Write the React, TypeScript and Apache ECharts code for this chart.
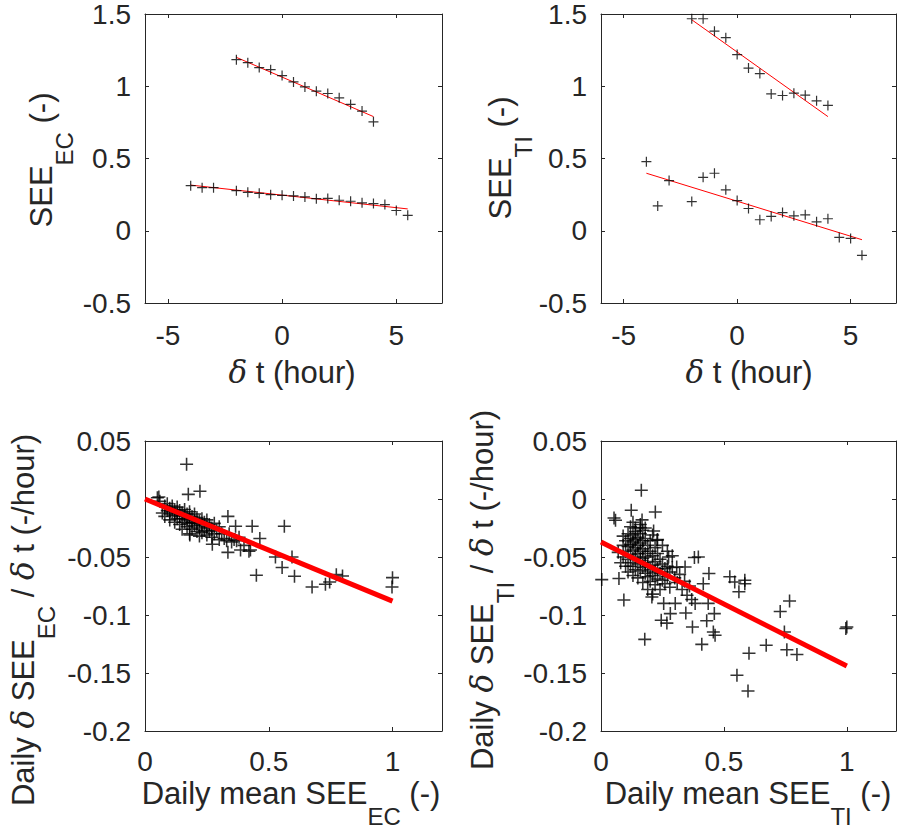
import React, { useEffect, useRef } from "react";
import * as echarts from "echarts";

// ---------- data ----------
// Top-left: SEE_EC vs delta t (hour)
const tlUpperX = [-2, -1.5, -1, -0.5, 0, 0.5, 1, 1.5, 2, 2.5, 3, 3.5, 4];
const tlUpperY = [1.184, 1.163, 1.129, 1.115, 1.074, 1.03, 0.995, 0.966, 0.95, 0.92, 0.874, 0.828, 0.754];
const tlLowerX = [-4, -3.5, -3, -2, -1.5, -1, -0.5, 0, 0.5, 1, 1.5, 2, 2.5, 3, 3.5, 4, 4.5, 5, 5.5];
const tlLowerY = [0.312, 0.298, 0.298, 0.277, 0.266, 0.259, 0.25, 0.245, 0.241, 0.234, 0.222, 0.224, 0.211, 0.204, 0.193, 0.188, 0.181, 0.14, 0.107];
const tlFitUpper = [[-2, 1.2], [4, 0.79]];
const tlFitLower = [[-4, 0.316], [5.5, 0.151]];

// Top-right: SEE_TI vs delta t (hour)
const trUpperX = [-2, -1.5, -1, -0.5, 0, 0.5, 1, 1.5, 2, 2.5, 3, 3.5, 4];
const trUpperY = [1.467, 1.467, 1.381, 1.336, 1.219, 1.126, 1.088, 0.947, 0.936, 0.952, 0.938, 0.899, 0.867];
const trLowerX = [-4, -3.5, -3, -2, -1.5, -1, -0.5, 0, 0.5, 1, 1.5, 2, 2.5, 3, 3.5, 4, 4.5, 5, 5.5];
const trLowerY = [0.478, 0.172, 0.347, 0.202, 0.37, 0.398, 0.283, 0.209, 0.154, 0.076, 0.099, 0.126, 0.103, 0.11, 0.062, 0.083, -0.046, -0.053, -0.17];
const trFitUpper = [[-2, 1.46], [4, 0.79]];
const trFitLower = [[-4, 0.398], [5.5, -0.062]];

// Bottom-left: daily slope vs daily mean SEE_EC
const blPoints = [
  [0.05, 0.001], [0.06, -0.002], [0.07, -0.012], [0.08, -0.006], [0.08, -0.015], [0.09, -0.004], [0.09, -0.01],
  [0.1, -0.008], [0.1, -0.013], [0.1, -0.018], [0.11, -0.006], [0.11, -0.011], [0.12, -0.009], [0.12, -0.014],
  [0.12, -0.02], [0.13, -0.007], [0.13, -0.012], [0.13, -0.017], [0.14, -0.01], [0.14, -0.015], [0.14, -0.022],
  [0.15, -0.012], [0.15, -0.017], [0.15, -0.026], [0.16, -0.009], [0.16, -0.014], [0.16, -0.02], [0.17, -0.013],
  [0.17, -0.018], [0.17, -0.024], [0.18, -0.011], [0.18, -0.016], [0.18, -0.021], [0.18, -0.03], [0.19, -0.015],
  [0.19, -0.02], [0.19, -0.026], [0.2, -0.013], [0.2, -0.018], [0.2, -0.023], [0.21, -0.016], [0.21, -0.021],
  [0.21, -0.028], [0.22, -0.019], [0.22, -0.025], [0.22, -0.032], [0.23, -0.017], [0.23, -0.022], [0.23, -0.029],
  [0.24, -0.02], [0.24, -0.027], [0.25, -0.018], [0.25, -0.024], [0.25, -0.031], [0.26, -0.022], [0.26, -0.028],
  [0.27, -0.025], [0.27, -0.033], [0.28, -0.021], [0.28, -0.03], [0.29, -0.027], [0.3, -0.024], [0.3, -0.035],
  [0.31, -0.03], [0.32, -0.034], [0.33, -0.036], [0.34, -0.03], [0.35, -0.037], [0.36, -0.035], [0.37, -0.036],
  [0.38, -0.033], [0.4, -0.04], [0.42, -0.045],
  [0.168, 0.03], [0.222, 0.0066], [0.175, 0.004], [0.056, 0.0017], [0.335, -0.015], [0.433, -0.0235],
  [0.563, -0.0235], [0.464, -0.034], [0.366, -0.0235], [0.181, -0.031], [0.272, -0.039], [0.335, -0.046],
  [0.426, -0.044], [0.386, -0.044], [0.527, -0.05], [0.594, -0.05], [0.554, -0.059], [0.45, -0.0658],
  [0.604, -0.0666], [0.675, -0.0759], [0.729, -0.0735], [0.746, -0.0716], [0.773, -0.0652], [0.798, -0.0664],
  [1.0, -0.0678], [0.998, -0.0759],
];
const blFit = [[0, 0.0], [1, -0.088]];

// Bottom-right: daily slope vs daily mean SEE_TI
const brPoints = [
  [0.09, -0.032], [0.1, -0.036], [0.1, -0.045], [0.11, -0.03], [0.11, -0.041], [0.11, -0.052], [0.12, -0.034],
  [0.12, -0.039], [0.12, -0.048], [0.12, -0.058], [0.13, -0.031], [0.13, -0.037], [0.13, -0.044], [0.13, -0.055],
  [0.13, -0.066], [0.14, -0.028], [0.14, -0.035], [0.14, -0.042], [0.14, -0.05], [0.14, -0.061], [0.15, -0.033],
  [0.15, -0.04], [0.15, -0.047], [0.15, -0.056], [0.15, -0.068], [0.16, -0.03], [0.16, -0.038], [0.16, -0.045],
  [0.16, -0.053], [0.16, -0.062], [0.17, -0.036], [0.17, -0.043], [0.17, -0.051], [0.17, -0.059], [0.17, -0.072],
  [0.18, -0.034], [0.18, -0.047], [0.18, -0.055], [0.18, -0.064], [0.19, -0.04], [0.19, -0.05], [0.19, -0.058],
  [0.19, -0.067], [0.19, -0.078], [0.2, -0.036], [0.2, -0.045], [0.2, -0.061], [0.2, -0.071], [0.21, -0.049],
  [0.21, -0.057], [0.21, -0.066], [0.21, -0.082], [0.22, -0.042], [0.22, -0.054], [0.22, -0.063], [0.22, -0.074],
  [0.23, -0.047], [0.23, -0.06], [0.23, -0.069], [0.24, -0.052], [0.24, -0.064], [0.24, -0.078], [0.25, -0.056],
  [0.25, -0.07], [0.26, -0.06], [0.26, -0.073], [0.27, -0.058], [0.27, -0.067], [0.28, -0.063], [0.28, -0.076],
  [0.29, -0.059], [0.3, -0.068], [0.31, -0.072], [0.32, -0.065], [0.33, -0.078], [0.34, -0.071], [0.35, -0.083],
  [0.36, -0.075], [0.12, -0.024], [0.13, -0.02], [0.14, -0.025], [0.16, -0.022], [0.17, -0.027], [0.18, -0.025],
  [0.21, -0.031], [0.23, -0.035], [0.25, -0.04], [0.27, -0.045], [0.29, -0.049], [0.1, -0.058], [0.11, -0.063],
  [0.08, -0.055], [0.09, -0.05], [0.07, -0.046], [0.09, -0.04],
  [0.164, 0.0075], [0.053, -0.0164], [0.059, -0.0184], [0.123, -0.0097], [0.221, -0.0112], [0.167, -0.018],
  [0.16, -0.0247], [0.214, -0.0276], [0.003, -0.0695], [0.093, -0.087], [0.178, -0.121], [0.073, -0.0686],
  [0.396, -0.05], [0.38, -0.0505], [0.439, -0.0643], [0.416, -0.073], [0.524, -0.067], [0.544, -0.0716],
  [0.585, -0.0701], [0.585, -0.073], [0.561, -0.08], [0.767, -0.088], [0.729, -0.097], [0.746, -0.1147],
  [0.672, -0.126], [0.602, -0.133], [0.756, -0.13], [0.797, -0.134], [0.553, -0.152], [0.598, -0.1655],
  [1.0, -0.1103], [0.996, -0.1117], [0.41, -0.1253], [0.372, -0.1103], [0.457, -0.1147], [0.464, -0.1175],
  [0.43, -0.105], [0.461, -0.0988], [0.345, -0.0983], [0.245, -0.1046], [0.268, -0.107], [0.282, -0.0988],
  [0.383, -0.09], [0.436, -0.09], [0.369, -0.0867], [0.302, -0.09], [0.255, -0.09], [0.207, -0.0845],
  [0.342, -0.0586], [0.308, -0.0586], [0.275, -0.05], [0.228, -0.0356],
];
const brFit = [[0, -0.037], [1, -0.144]];

// tick values
const dtTicks = [-5, 0, 5];
const seeTicks = [-0.5, 0, 0.5, 1, 1.5];
const meanTicks = [0, 0.5, 1];
const slopeTicks = [-0.2, -0.15, -0.1, -0.05, 0, 0.05];

// ---------- styling ----------
const FONT = '"Liberation Sans", Arial, Helvetica, sans-serif';
const INK = "#262626";
const PLUS = "path://M0,8.8h20v2.4h-20z M8.8,0h2.4v20h-2.4z";

const zip = (xs: number[], ys: number[]) => xs.map((x, i) => [x, ys[i]]);

const grids = [
  { left: 145, top: 14, width: 297, height: 289 },
  { left: 601, top: 14, width: 295, height: 289 },
  { left: 145, top: 441, width: 297, height: 290 },
  { left: 601, top: 441, width: 295, height: 290 },
];

function makeAxis(gridIndex: number, min: number, max: number, ticks: number[], position: string, showLabel: boolean, margin: number) {
  return {
    type: "value",
    gridIndex,
    min,
    max,
    position,
    axisLine: { show: true, onZero: false, lineStyle: { color: INK, width: 1 } },
    axisTick: { show: true, inside: true, length: 4, customValues: ticks, lineStyle: { color: INK, width: 1 } },
    axisLabel: {
      show: showLabel,
      customValues: ticks,
      margin,
      color: INK,
      fontSize: 28,
      fontFamily: FONT,
      formatter: (v: number) => String(v),
    },
    splitLine: { show: false },
  };
}

const rich = {
  m: { fontSize: 31, fontFamily: FONT, fill: INK },
  d: { fontSize: 31, fontFamily: '"DejaVu Serif", serif', fontStyle: "italic", fill: INK },
  s: { fontSize: 24, fontFamily: FONT, fill: INK, padding: [46, 0, 0, 0] },
};

function title(text: string, x: number, y: number, rotated: boolean) {
  return {
    type: "text",
    x,
    y,
    rotation: rotated ? Math.PI / 2 : 0,
    silent: true,
    style: {
      text,
      rich,
      align: "center",
      textAlign: "center",
      verticalAlign: "middle",
      textVerticalAlign: "middle",
      fill: INK,
    },
  };
}

function scatter(idx: number, data: number[][], size: number) {
  return {
    type: "scatter",
    xAxisIndex: idx * 2,
    yAxisIndex: idx * 2,
    data,
    symbol: PLUS,
    symbolSize: size,
    itemStyle: { color: "#000000" },
    z: 3,
  };
}

function fit(idx: number, data: number[][], width: number, z: number) {
  return {
    type: "line",
    xAxisIndex: idx * 2,
    yAxisIndex: idx * 2,
    data,
    showSymbol: false,
    symbol: "none",
    lineStyle: { color: "#ff0000", width },
    z,
  };
}

export default function App() {
  const ref = useRef<HTMLDivElement>(null);
  useEffect(() => {
    if (!ref.current) return;
    const chart = echarts.init(ref.current, null, { renderer: "svg" });
    const xAxis: any[] = [];
    const yAxis: any[] = [];
    grids.forEach((_, i) => {
      const top = i < 2;
      const xr = top ? [-6, 7] : [0, 1.2];
      const yr = top ? [-0.5, 1.5] : [-0.2, 0.05];
      const xt = top ? dtTicks : meanTicks;
      const yt = top ? seeTicks : slopeTicks;
      xAxis.push(makeAxis(i, xr[0], xr[1], xt, "bottom", true, top ? 18 : 16));
      xAxis.push(makeAxis(i, xr[0], xr[1], xt, "top", false, 8));
      yAxis.push(makeAxis(i, yr[0], yr[1], yt, "left", true, 14));
      yAxis.push(makeAxis(i, yr[0], yr[1], yt, "right", false, 8));
    });
    const option = {
      animation: false,
      backgroundColor: "#ffffff",
      grid: grids.map((g) => ({ ...g, containLabel: false })),
      xAxis,
      yAxis,
      series: [
        scatter(0, zip(tlUpperX, tlUpperY), 10),
        scatter(0, zip(tlLowerX, tlLowerY), 10),
        fit(0, tlFitUpper, 1, 2),
        fit(0, tlFitLower, 1, 2),
        scatter(1, zip(trUpperX, trUpperY), 10),
        scatter(1, zip(trLowerX, trLowerY), 10),
        fit(1, trFitUpper, 1, 2),
        fit(1, trFitLower, 1, 2),
        scatter(2, blPoints, 13),
        fit(2, blFit, 5, 4),
        scatter(3, brPoints, 13),
        fit(3, brFit, 5, 4),
      ],
      graphic: [
        title("{d|δ}{m| t (hour)}", 292, 372, false),
        title("{d|δ}{m| t (hour)}", 749, 372, false),
        title("{m|SEE}{s|EC}{m| (-)}", 41, 160, true),
        title("{m|SEE}{s|TI}{m| (-)}", 500, 158, true),
        title("{m|Daily mean SEE}{s|EC}{m| (-)}", 291, 793, false),
        title("{m|Daily mean SEE}{s|TI}{m| (-)}", 748, 793, false),
        title("{m|Daily }{d|δ}{m| SEE}{s|EC}{m| / }{d|δ}{m| t (-/hour)}", 23, 620, true),
        title("{m|Daily }{d|δ}{m| SEE}{s|TI}{m| / }{d|δ}{m| t (-/hour)}", 482, 590, true),
      ],
    };
    chart.setOption(option as any);
    return () => chart.dispose();
  }, []);
  return (
    <div
      ref={ref}
      style={{ position: "absolute", left: 0, top: 0, width: 902, height: 834, background: "#fff" }}
    />
  );
}
